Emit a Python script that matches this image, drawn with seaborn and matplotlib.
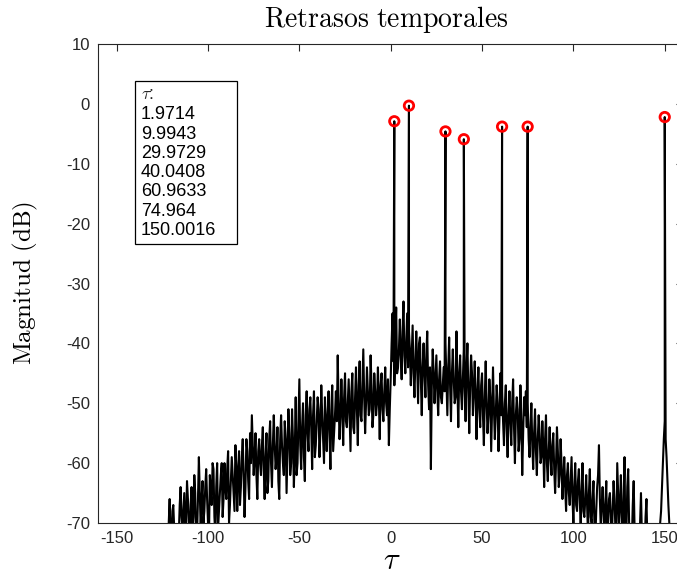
import numpy as np
import pandas as pd
import seaborn as sns
import matplotlib
matplotlib.use("Agg")
import matplotlib.pyplot as plt
from matplotlib.patches import Rectangle

# ---------------- data ----------------
tau_start = -124
# magnitude (dB) at integer lags, tau = -124 ... 156
noise_db = [
    -79, -76, -75, -66, -72, -67, -74, -77, -72, -64,
    -71, -65, -70, -66, -73, -64, -69, -65, -72, -59,
    -71, -63, -68, -61, -70, -62, -67, -61, -72, -60,
    -68, -62, -69, -60, -66, -58, -67, -59, -65, -57,
    -68, -58, -64, -56, -69, -56, -63, -55, -52, -62,
    -55, -66, -56, -62, -54, -66, -55, -63, -53, -64,
    -52, -61, -54, -66, -52, -60, -53, -65, -51, -62,
    -51, -64, -49, -60, -46, -61, -50, -63, -48, -58,
    -49, -61, -48, -57, -49, -59, -47, -56, -49, -58,
    -48, -61, -47, -55, -48, -42, -56, -46, -57, -45,
    -54, -46, -58, -45, -55, -44, -57, -43, -53, -41,
    -55, -44, -52, -42, -54, -45, -52, -44, -56, -45,
    -53, -44, -52, -57, -46, -35, -47, -34, -44, -36,
    -46, -33, -45, -35, -38, -47, -37, -49, -38, -50,
    -39, -52, -40, -49, -38, -51, -61, -41, -50, -42,
    -52, -43, -50, -44, -40, -52, -39, -53, -41, -50,
    -38, -54, -42, -51, -41, -53, -40, -55, -42, -52,
    -43, -56, -44, -54, -45, -57, -43, -55, -46, -58,
    -44, -56, -47, -58, -45, -48, -57, -47, -59, -48,
    -57, -46, -60, -49, -58, -47, -62, -49, -48, -50,
    -59, -50, -61, -51, -62, -52, -60, -53, -64, -52,
    -63, -54, -62, -55, -65, -54, -64, -56, -66, -59,
    -68, -60, -67, -59, -70, -60, -68, -61, -71, -60,
    -69, -62, -72, -61, -70, -63, -73, -64, -57, -71,
    -64, -72, -63, -70, -65, -73, -63, -71, -60, -70,
    -62, -74, -59, -72, -61, -76, -73, -63, -77, -75,
    -78, -65, -76, -74, -66, -77, -79, -78, -80, -79,
    -80, -72, -68, -60, -53, -59, -67, -72, -78, -80,
    -81,
]
# magnitude (dB) at half lags, tau = -123.5 ... 155.5
noise_db_half = [
    -80, -78, -70, -74, -68, -71, -79, -75, -67, -69,
    -68, -72, -63, -70, -67, -71, -62, -74, -66, -65,
    -66, -70, -64, -66, -73, -65, -60, -69, -64, -71,
    -65, -60, -66, -64, -61, -70, -63, -62, -68, -61,
    -61, -67, -59, -62, -64, -58, -66, -60, -57, -59,
    -62, -58, -60, -57, -61, -59, -65, -56, -60, -57,
    -57, -59, -63, -56, -57, -62, -56, -58, -55, -60,
    -56, -58, -62, -53, -57, -54, -59, -52, -55, -51,
    -54, -52, -59, -53, -51, -55, -52, -60, -53, -52,
    -55, -51, -58, -52, -53, -50, -52, -51, -49, -53,
    -50, -52, -48, -54, -49, -51, -47, -52, -47, -49,
    -50, -48, -51, -47, -52, -48, -50, -49, -47, -51,
    -48, -50, -46, -51, -40, -43, -39, -45, -41, -42,
    -38, -42, -40, -44, -41, -42, -45, -43, -44, -40,
    -46, -44, -45, -42, -47, -44, -47, -45, -46, -48,
    -46, -49, -47, -48, -46, -44, -47, -45, -46, -49,
    -47, -45, -48, -46, -47, -44, -48, -47, -45, -48,
    -49, -48, -51, -47, -52, -49, -50, -52, -49, -51,
    -51, -52, -50, -53, -52, -53, -50, -54, -52, -53,
    -50, -54, -52, -51, -56, -53, -55, -52, -54, -56,
    -54, -57, -55, -58, -56, -55, -59, -57, -56, -60,
    -58, -59, -57, -61, -60, -58, -62, -60, -63, -64,
    -62, -65, -63, -66, -64, -67, -63, -66, -65, -68,
    -66, -67, -65, -69, -66, -70, -68, -62, -66, -67,
    -68, -67, -72, -66, -69, -68, -66, -74, -65, -67,
    -69, -66, -75, -64, -70, -78, -67, -71, -80, -72,
    -70, -72, -79, -69, -73, -80, -77, -81, -78, -82,
    -77, -70, -64, -56, -56, -63, -70, -75, -79, -81,
]
peak_tau = [1.9714, 9.9943, 29.9729, 40.0408, 60.9633, 74.964, 150.0016]
peak_db = [-2.9, -0.3, -4.6, -5.9, -3.8, -3.8, -2.2]

x_ticks = [-150, -100, -50, 0, 50, 100, 150]
y_ticks = [10, 0, -10, -20, -30, -40, -50, -60, -70]

# ---------------- build table ----------------
tau_int = np.arange(tau_start, tau_start + len(noise_db))
tau_half = np.arange(len(noise_db_half)) + tau_start + 0.5
df = pd.DataFrame({
    "tau": np.concatenate([tau_int, tau_half, peak_tau]),
    "db": np.concatenate([noise_db, noise_db_half, peak_db]),
}).sort_values("tau")
peaks = pd.DataFrame({"tau": peak_tau, "db": peak_db})

# ---------------- figure ----------------
sns.set_theme(style="white")
plt.rcParams["font.family"] = ["Liberation Sans", "DejaVu Sans"]
plt.rcParams["mathtext.fontset"] = "cm"
plt.rcParams["axes.unicode_minus"] = False

W, H = 677, 577
fig = plt.figure(figsize=(W / 100, H / 100), dpi=100)
left, right, top, bottom = 98.4, 683.0, 44.0, 523.0
ax = fig.add_axes([left / W, 1 - bottom / H, (right - left) / W, (bottom - top) / H])

sns.lineplot(data=df, x="tau", y="db", ax=ax, color="black", linewidth=1.5,
             estimator=None, sort=False)
sns.scatterplot(data=peaks, x="tau", y="db", ax=ax, marker="o", s=46,
                facecolor="none", edgecolor="#ff0000", linewidth=2.0, zorder=5)

ax.set_xlim(-160, 160)
ax.set_ylim(-70, 10)
ax.set_xticks(x_ticks)
ax.set_yticks(y_ticks)
ax.set_xticklabels([str(v) for v in x_ticks])
ax.set_yticklabels([str(v) for v in y_ticks])
ax.set_xlabel("")
ax.set_ylabel("")
dark = "#262626"
ax.tick_params(direction="in", length=5, width=0.8, top=True, right=True,
               labelsize=12, colors=dark, pad=6)
for s in ax.spines.values():
    s.set_color(dark)
    s.set_linewidth(0.8)
ax.grid(False)

# texts
fig.text(386 / W, 1 - 27 / H, r"$\mathrm{Retrasos\ temporales}$", ha="center",
         va="baseline", fontsize=20, color="black")
fig.text(25 / W, 1 - 283 / H, r"$\mathrm{Magnitud\ (dB)}$", ha="center",
         va="center", rotation=90, fontsize=18, color="black")
fig.text(392 / W, 1 - 561 / H, r"$\tau$", ha="center", va="center",
         fontsize=22, color="black")

# tau annotation box
fig.add_artist(Rectangle((135 / W, 1 - 244 / H), 102 / W, 163 / H,
                         transform=fig.transFigure, fill=True, facecolor="white",
                         edgecolor="black", linewidth=0.9, zorder=10))
fig.text(141 / W, 1 - 99 / H, r"$\tau$:", ha="left", va="baseline",
         fontsize=13, zorder=11)
for i, t in enumerate(peak_tau):
    fig.text(141 / W, 1 - (119.3 + 19.3 * i) / H, str(t), ha="left",
             va="baseline", fontsize=13, color="black", zorder=11)

fig.savefig("out.png", dpi=100)
